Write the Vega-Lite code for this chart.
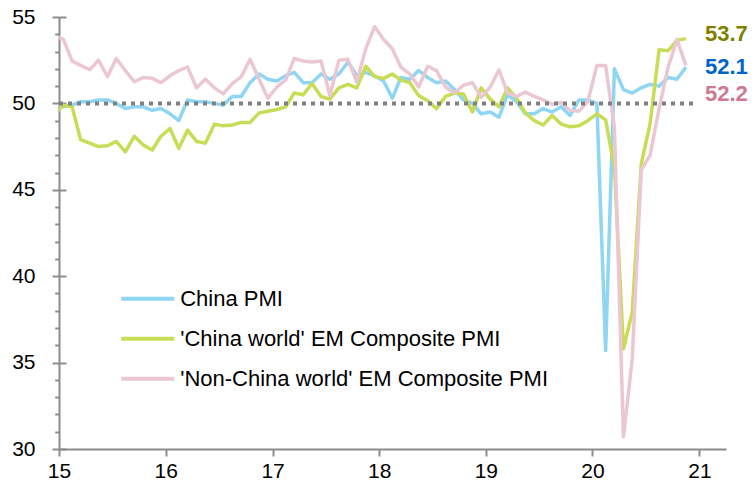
{
  "$schema": "https://vega.github.io/schema/vega-lite/v6.json",
  "width": 667,
  "height": 432,
  "autosize": {"type": "none"},
  "padding": {"left": 59, "top": 17, "right": 29, "bottom": 40},
  "background": "white",
  "config": {
    "view": {"stroke": null},
    "font": "Liberation Sans",
    "axis": {
      "domainColor": "#8c8c8c", "domainWidth": 2,
      "tickColor": "#8c8c8c", "tickWidth": 2,
      "labelFont": "Liberation Sans", "labelFontSize": 21, "labelColor": "#000000",
      "title": null
    }
  },
  "datasets": {
    "pmi": [
      {"d": "2014-12-16", "cn": 50.1, "cw": 49.35, "nc": 53.95},
      {"d": "2015-01-16", "cn": 49.8, "cw": 49.9, "nc": 53.7},
      {"d": "2015-02-15", "cn": 49.9, "cw": 49.8, "nc": 52.45},
      {"d": "2015-03-16", "cn": 50.1, "cw": 47.9, "nc": 52.2},
      {"d": "2015-04-16", "cn": 50.1, "cw": 47.7, "nc": 51.95},
      {"d": "2015-05-16", "cn": 50.2, "cw": 47.5, "nc": 52.5},
      {"d": "2015-06-16", "cn": 50.2, "cw": 47.55, "nc": 51.55},
      {"d": "2015-07-16", "cn": 50.0, "cw": 47.8, "nc": 52.6},
      {"d": "2015-08-16", "cn": 49.7, "cw": 47.2, "nc": 51.9},
      {"d": "2015-09-16", "cn": 49.8, "cw": 48.1, "nc": 51.25},
      {"d": "2015-10-16", "cn": 49.8, "cw": 47.6, "nc": 51.5},
      {"d": "2015-11-16", "cn": 49.6, "cw": 47.3, "nc": 51.45},
      {"d": "2015-12-16", "cn": 49.7, "cw": 48.1, "nc": 51.2},
      {"d": "2016-01-16", "cn": 49.4, "cw": 48.55, "nc": 51.6},
      {"d": "2016-02-15", "cn": 49.0, "cw": 47.4, "nc": 51.9},
      {"d": "2016-03-16", "cn": 50.2, "cw": 48.45, "nc": 52.1},
      {"d": "2016-04-16", "cn": 50.1, "cw": 47.8, "nc": 50.9},
      {"d": "2016-05-16", "cn": 50.1, "cw": 47.7, "nc": 51.4},
      {"d": "2016-06-16", "cn": 50.0, "cw": 48.8, "nc": 50.9},
      {"d": "2016-07-16", "cn": 49.9, "cw": 48.7, "nc": 50.55},
      {"d": "2016-08-16", "cn": 50.4, "cw": 48.75, "nc": 51.15},
      {"d": "2016-09-16", "cn": 50.4, "cw": 48.9, "nc": 51.55},
      {"d": "2016-10-16", "cn": 51.2, "cw": 48.9, "nc": 52.55},
      {"d": "2016-11-16", "cn": 51.7, "cw": 49.45, "nc": 51.4},
      {"d": "2016-12-16", "cn": 51.4, "cw": 49.55, "nc": 50.3},
      {"d": "2017-01-16", "cn": 51.3, "cw": 49.65, "nc": 50.95},
      {"d": "2017-02-15", "cn": 51.6, "cw": 49.8, "nc": 51.35},
      {"d": "2017-03-16", "cn": 51.8, "cw": 50.6, "nc": 52.6},
      {"d": "2017-04-16", "cn": 51.2, "cw": 50.5, "nc": 52.45},
      {"d": "2017-05-16", "cn": 51.2, "cw": 51.15, "nc": 52.4},
      {"d": "2017-06-16", "cn": 51.7, "cw": 50.4, "nc": 52.45},
      {"d": "2017-07-16", "cn": 51.4, "cw": 50.25, "nc": 50.45},
      {"d": "2017-08-16", "cn": 51.7, "cw": 50.9, "nc": 52.5},
      {"d": "2017-09-16", "cn": 52.4, "cw": 51.1, "nc": 52.55},
      {"d": "2017-10-16", "cn": 51.6, "cw": 50.9, "nc": 51.25},
      {"d": "2017-11-16", "cn": 51.8, "cw": 52.15, "nc": 53.15},
      {"d": "2017-12-16", "cn": 51.6, "cw": 51.55, "nc": 54.45},
      {"d": "2018-01-16", "cn": 51.3, "cw": 51.45, "nc": 53.7},
      {"d": "2018-02-15", "cn": 50.3, "cw": 51.7, "nc": 53.15},
      {"d": "2018-03-16", "cn": 51.5, "cw": 51.35, "nc": 52.1},
      {"d": "2018-04-16", "cn": 51.4, "cw": 51.2, "nc": 51.7},
      {"d": "2018-05-16", "cn": 51.9, "cw": 50.45, "nc": 50.95},
      {"d": "2018-06-16", "cn": 51.5, "cw": 50.15, "nc": 52.15},
      {"d": "2018-07-16", "cn": 51.2, "cw": 49.7, "nc": 51.9},
      {"d": "2018-08-16", "cn": 51.3, "cw": 50.4, "nc": 50.95},
      {"d": "2018-09-16", "cn": 50.8, "cw": 50.6, "nc": 50.6},
      {"d": "2018-10-16", "cn": 50.2, "cw": 50.55, "nc": 51.05},
      {"d": "2018-11-16", "cn": 50.0, "cw": 49.5, "nc": 51.2},
      {"d": "2018-12-16", "cn": 49.4, "cw": 50.9, "nc": 50.35},
      {"d": "2019-01-16", "cn": 49.5, "cw": 50.25, "nc": 50.95},
      {"d": "2019-02-15", "cn": 49.2, "cw": 49.8, "nc": 51.95},
      {"d": "2019-03-16", "cn": 50.5, "cw": 50.9, "nc": 50.6},
      {"d": "2019-04-16", "cn": 50.1, "cw": 50.3, "nc": 50.4},
      {"d": "2019-05-16", "cn": 49.4, "cw": 49.45, "nc": 50.65},
      {"d": "2019-06-16", "cn": 49.4, "cw": 49.0, "nc": 50.4},
      {"d": "2019-07-16", "cn": 49.7, "cw": 48.75, "nc": 50.2},
      {"d": "2019-08-16", "cn": 49.5, "cw": 49.3, "nc": 49.95},
      {"d": "2019-09-16", "cn": 49.8, "cw": 48.8, "nc": 50.05},
      {"d": "2019-10-16", "cn": 49.3, "cw": 48.65, "nc": 49.6},
      {"d": "2019-11-16", "cn": 50.2, "cw": 48.7, "nc": 49.55},
      {"d": "2019-12-16", "cn": 50.2, "cw": 49.0, "nc": 50.1},
      {"d": "2020-01-16", "cn": 50.0, "cw": 49.4, "nc": 52.2},
      {"d": "2020-02-15", "cn": 35.7, "cw": 49.05, "nc": 52.2},
      {"d": "2020-03-16", "cn": 52.0, "cw": 46.3, "nc": 48.6},
      {"d": "2020-04-16", "cn": 50.8, "cw": 35.8, "nc": 30.7},
      {"d": "2020-05-16", "cn": 50.6, "cw": 37.9, "nc": 35.2},
      {"d": "2020-06-16", "cn": 50.9, "cw": 46.5, "nc": 46.15},
      {"d": "2020-07-16", "cn": 51.1, "cw": 48.8, "nc": 47.0},
      {"d": "2020-08-16", "cn": 51.0, "cw": 53.1, "nc": 49.7},
      {"d": "2020-09-16", "cn": 51.5, "cw": 53.05, "nc": 52.1},
      {"d": "2020-10-16", "cn": 51.4, "cw": 53.65, "nc": 53.7},
      {"d": "2020-11-16", "cn": 52.1, "cw": 53.75, "nc": 52.2}
    ],
    "labels": [
      {"d": "2020-11-16", "k": "cw", "v": 53.7, "t": "53.7"},
      {"d": "2020-11-16", "k": "cn", "v": 52.1, "t": "52.1"},
      {"d": "2020-11-16", "k": "nc", "v": 52.2, "t": "52.2"}
    ],
    "ref": [
      {"d": "2015-01-01", "d2": "2020-12-15", "v": 50}
    ]
  },
  "encoding": {
    "x": {
      "field": "d", "type": "temporal",
      "scale": {"type": "utc", "domain": [{"year": 2015, "month": 1, "date": 1, "utc": true}, {"year": 2021, "month": 4, "date": 2, "utc": true}]},
      "axis": {
        "labelExpr": "utcFormat(datum.value, '%y')",
        "values": [
          {"year": 2015, "month": 1, "date": 1, "utc": true},
          {"year": 2016, "month": 1, "date": 1, "utc": true},
          {"year": 2017, "month": 1, "date": 1, "utc": true},
          {"year": 2018, "month": 1, "date": 1, "utc": true},
          {"year": 2019, "month": 1, "date": 1, "utc": true},
          {"year": 2020, "month": 1, "date": 1, "utc": true},
          {"year": 2021, "month": 1, "date": 1, "utc": true}
        ],
        "tickSize": 7, "labelPadding": 4, "grid": false, "labelFlush": false, "labelOverlap": false
      }
    },
    "y": {
      "field": "v", "type": "quantitative",
      "scale": {"domain": [30, 55], "nice": false, "zero": false},
      "axis": {
        "values": [30,31,32,33,34,35,36,37,38,39,40,41,42,43,44,45,46,47,48,49,50,51,52,53,54,55],
        "labelExpr": "datum.value % 5 === 0 ? datum.label : ''",
        "tickSize": {"condition": {"test": "datum.value % 5 === 0", "value": 7}, "value": 4.3},
        "labelPadding": 17,
        "labelOverlap": false,
        "grid": true,
        "gridColor": "#8c8c8c",
        "gridWidth": 2,
        "gridDash": {"condition": {"test": "datum.value % 5 === 0", "value": [7, 3000]}, "value": [0, 3000]}
      }
    }
  },
  "layer": [
    {
      "data": {"name": "pmi"},
      "transform": [{"fold": ["cn", "cw", "nc"], "as": ["k", "v"]}],
      "mark": {"type": "line", "strokeWidth": 3.5, "clip": true, "strokeJoin": "round"},
      "encoding": {
        "color": {
          "field": "k", "type": "nominal",
          "scale": {"domain": ["cn", "cw", "nc"], "range": ["#8fd6f4", "#c8dc55", "#ebc7d3"]},
          "legend": {
            "orient": "none", "legendX": 60.2, "legendY": 253.3,
            "title": null, "padding": 0,
            "symbolType": "stroke", "symbolSize": 2809, "symbolStrokeWidth": 4,
            "labelFont": "Liberation Sans", "labelFontSize": 22, "labelColor": "#000000",
            "labelOffset": 4, "labelLimit": 600, "rowPadding": 0,
            "labelExpr": "datum.value == 'cn' ? 'China PMI' : datum.value == 'cw' ? \"'China world' EM Composite PMI\" : \"'Non-China world' EM Composite PMI\""
          }
        }
      }
    },
    {
      "data": {"name": "ref"},
      "mark": {"type": "rule", "color": "#808080", "strokeWidth": 4, "strokeDash": [4, 5]},
      "encoding": {
        "x2": {"field": "d2"}
      }
    },
    {
      "data": {"name": "labels"},
      "transform": [{"filter": "datum.k == 'cw'"}],
      "mark": {"type": "text", "align": "left", "baseline": "middle", "dx": 19, "dy": -5.5, "fontSize": 22, "fontWeight": "bold", "font": "Liberation Sans", "color": "#808000"},
      "encoding": {
        "text": {"field": "t"}
      }
    },
    {
      "data": {"name": "labels"},
      "transform": [{"filter": "datum.k == 'cn'"}],
      "mark": {"type": "text", "align": "left", "baseline": "middle", "dx": 19, "dy": 0, "fontSize": 22, "fontWeight": "bold", "font": "Liberation Sans", "color": "#0066cc"},
      "encoding": {
        "text": {"field": "t"}
      }
    },
    {
      "data": {"name": "labels"},
      "transform": [{"filter": "datum.k == 'nc'"}],
      "mark": {"type": "text", "align": "left", "baseline": "middle", "dx": 19, "dy": 29, "fontSize": 22, "fontWeight": "bold", "font": "Liberation Sans", "color": "#cf7893"},
      "encoding": {
        "text": {"field": "t"}
      }
    }
  ]
}
